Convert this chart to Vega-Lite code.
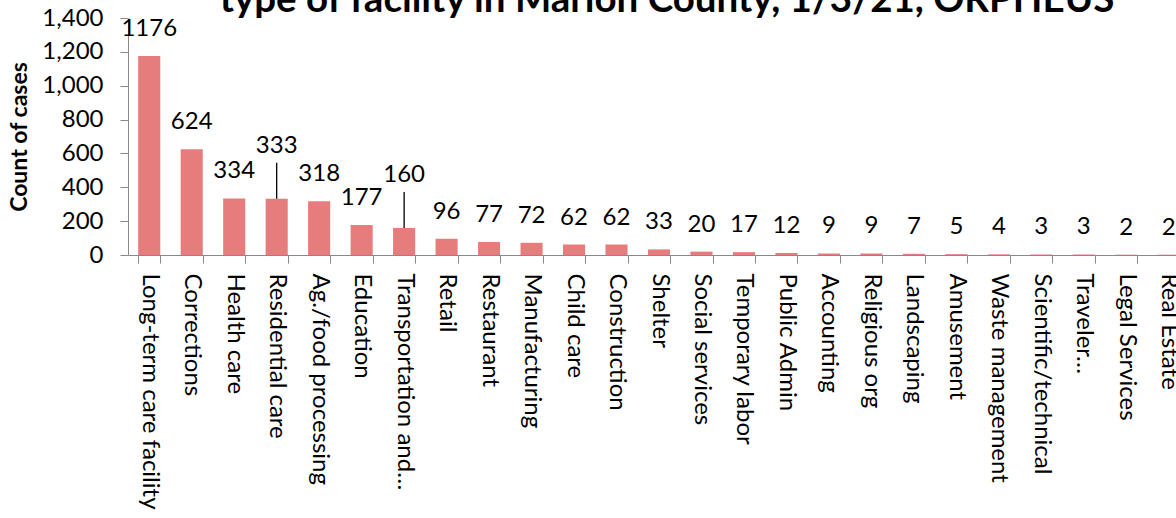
{
  "$schema": "https://vega.github.io/schema/vega-lite/v6.json",
  "autosize": {"type": "none"},
  "padding": {"left": 128, "top": 18, "right": 0, "bottom": 263},
  "width": 1062,
  "height": 237,
  "background": "white",
  "title": {
    "text": "type of facility in Marion County, 1/3/21, ORPHEUS",
    "font": "Lato",
    "fontSize": 38.5,
    "fontWeight": "bold",
    "color": "black",
    "anchor": "middle",
    "frame": "group",
    "dx": 8,
    "offset": -44,
    "baseline": "alphabetic"
  },
  "config": {
    "view": {"stroke": null},
    "axis": {"labelFont": "Lato", "titleFont": "Lato", "labelColor": "black", "titleColor": "black", "domainColor": "#898989", "tickColor": "#898989", "grid": false}
  },
  "data": {
    "values": [
      {"facility": "Long-term care facility", "cases": 1176, "leader": false},
      {"facility": "Corrections", "cases": 624, "leader": false},
      {"facility": "Health care", "cases": 334, "leader": false},
      {"facility": "Residential care", "cases": 333, "leader": true},
      {"facility": "Ag./food processing", "cases": 318, "leader": false},
      {"facility": "Education", "cases": 177, "leader": false},
      {"facility": "Transportation and…", "cases": 160, "leader": true},
      {"facility": "Retail", "cases": 96, "leader": false},
      {"facility": "Restaurant", "cases": 77, "leader": false},
      {"facility": "Manufacturing", "cases": 72, "leader": false},
      {"facility": "Child care", "cases": 62, "leader": false},
      {"facility": "Construction", "cases": 62, "leader": false},
      {"facility": "Shelter", "cases": 33, "leader": false},
      {"facility": "Social services", "cases": 20, "leader": false},
      {"facility": "Temporary labor", "cases": 17, "leader": false},
      {"facility": "Public Admin", "cases": 12, "leader": false},
      {"facility": "Accounting", "cases": 9, "leader": false},
      {"facility": "Religious org", "cases": 9, "leader": false},
      {"facility": "Landscaping", "cases": 7, "leader": false},
      {"facility": "Amusement", "cases": 5, "leader": false},
      {"facility": "Waste management", "cases": 4, "leader": false},
      {"facility": "Scientific/technical", "cases": 3, "leader": false},
      {"facility": "Traveler…", "cases": 3, "leader": false},
      {"facility": "Legal Services", "cases": 2, "leader": false},
      {"facility": "Real Estate", "cases": 2, "leader": false}
    ]
  },
  "encoding": {
    "x": {
      "field": "facility",
      "type": "nominal",
      "sort": null,
      "scale": {"paddingInner": 0.48, "paddingOuter": 0.24},
      "axis": {
        "title": null,
        "labelAngle": 90,
        "labelAlign": "left",
        "labelBaseline": "middle",
        "labelFontSize": 24,
        "labelPadding": 10,
        "tickSize": 8,
        "tickBand": "extent",
        "labelLimit": 400,
        "labelOverlap": false
      }
    },
    "y": {
      "field": "cases",
      "type": "quantitative",
      "scale": {"domain": [0, 1400], "nice": false},
      "axis": {
        "title": "Count of cases",
        "titleFontSize": 23,
        "titleFontWeight": "bold",
        "titlePadding": 10,
        "values": [0, 200, 400, 600, 800, 1000, 1200, 1400],
        "format": ",d",
        "labelFontSize": 24,
        "labelPadding": 17,
        "tickSize": 8
      }
    }
  },
  "layer": [
    {"mark": {"type": "bar", "color": "#E77C7C"}},
    {
      "transform": [{"filter": "!datum.leader"}],
      "mark": {"type": "text", "font": "Lato", "fontSize": 24, "color": "black", "baseline": "middle", "dy": -27},
      "encoding": {"text": {"field": "cases", "type": "quantitative", "format": "d"}}
    },
    {
      "transform": [{"filter": "datum.leader"}],
      "mark": {"type": "text", "font": "Lato", "fontSize": 24, "color": "black", "baseline": "middle", "dy": -53},
      "encoding": {"text": {"field": "cases", "type": "quantitative", "format": "d"}}
    },
    {
      "transform": [{"filter": "datum.leader"}],
      "mark": {"type": "rule", "color": "black", "strokeWidth": 1.3, "y2Offset": -36},
      "encoding": {"y2": {"field": "cases"}}
    }
  ]
}
